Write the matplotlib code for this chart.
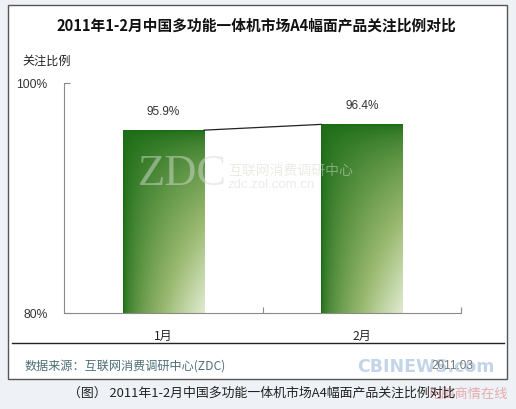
import matplotlib.pyplot as plt
import numpy as np
from matplotlib.patches import Rectangle

plt.rcParams['font.family'] = ['Noto Sans CJK SC', 'DejaVu Sans']

months = ['1月', '2月']
ratios = [95.9, 96.4]
value_labels = ['95.9%', '96.4%']
y_ticks = [80, 100]
y_tick_labels = ['80%', '100%']

W, H = 516, 409
fig = plt.figure(figsize=(W / 100, H / 100), dpi=100, facecolor='#eef2f6')

def fx(px):
    return px / W

def fy(py):
    return 1 - py / H

# 白色外框
fig.patches.append(Rectangle((fx(8), fy(379)), fx(499), 374 / H, transform=fig.transFigure,
                             facecolor='white', edgecolor='#555555', lw=1, zorder=-5))
fig.add_artist(plt.Line2D([fx(12), fx(504)], [fy(343), fy(343)], transform=fig.transFigure,
                          color='#222222', lw=1))

ax = fig.add_axes([fx(64), fy(313), fx(461) - fx(64), (313 - 83) / H])
ax.set_facecolor('none')
x = np.arange(len(months))
bars = ax.bar(x, ratios, width=0.41, bottom=0, color='none', zorder=2)
ax.set_xlim(-0.5, 1.5)
ax.set_ylim(80, 100)

# 渐变填充（左上深绿，右下浅绿）
gx, gy = np.meshgrid(np.linspace(0, 1, 80), np.linspace(0, 1, 160))
t = np.clip(gx * (1 - gy), 0, 1) ** 0.6
dark = np.array([28, 108, 22]) / 255
mid = np.array([152, 184, 110]) / 255
light = np.array([224, 235, 208]) / 255
k = 0.65
a = np.clip(t / k, 0, 1)[..., None]
b2 = np.clip((t - k) / (1 - k), 0, 1)[..., None]
img = np.where(t[..., None] < k, dark * (1 - a) + mid * a, mid * (1 - b2) + light * b2)
for b in bars:
    x0, w, h = b.get_x(), b.get_width(), b.get_height()
    im = ax.imshow(img, extent=[x0, x0 + w, 80, h], origin='lower', aspect='auto', zorder=2)
    im.set_clip_path(b)

# 柱顶连线
ax.plot([bars[0].get_x() + bars[0].get_width(), bars[1].get_x()], ratios,
        color='#222222', lw=0.9, zorder=3)

for xi, v, lab in zip(x, ratios, value_labels):
    ax.annotate(lab, (xi, v), xytext=(0, 9), textcoords='offset points', ha='center',
                va='bottom', fontsize=8.5, color='#333333', family=['Liberation Sans'])

for s in ['top', 'right']:
    ax.spines[s].set_visible(False)
for s in ['left', 'bottom']:
    ax.spines[s].set_color('#8a8a8a')
    ax.spines[s].set_linewidth(0.8)

ax.set_yticks(y_ticks)
ax.set_yticklabels(y_tick_labels, family=['Liberation Sans'], fontsize=8.7, color='#333333')
ax.tick_params(axis='y', direction='in', length=4, width=0.8, color='#8a8a8a', pad=12)
ax.set_xticks(x)
ax.set_xticklabels(months, fontsize=8.7, color='#222222')
ax.tick_params(axis='x', length=0, pad=12)
ax.set_xticks([0.5, 1.5], minor=True)
ax.tick_params(axis='x', which='minor', direction='in', length=4, width=0.8, color='#8a8a8a')

fig.text(fx(22), fy(61), '关注比例', fontsize=8.7, color='#222222', va='center')
fig.text(fx(256), fy(25), '2011年1-2月中国多功能一体机市场A4幅面产品关注比例对比',
         fontsize=10.6, fontweight='bold', color='#111111', ha='center', va='center')

# 水印
fig.text(fx(138), fy(174), 'ZDC', family=['Liberation Serif'], fontsize=32, color='#d4dbd0',
         alpha=0.5, va='center')
fig.text(fx(228), fy(171), '互联网消费调研中心', fontsize=10, color='#d4dbd0', alpha=0.5, va='center')
fig.text(fx(228), fy(185), 'zdc.zol.com.cn', fontsize=9.5, color='#d4dbd0', alpha=0.5, va='center',
         family=['Liberation Sans'])

fig.text(fx(25), fy(366), '数据来源：互联网消费调研中心(ZDC)', fontsize=8.7, color='#4d6f78', va='center')
fig.text(fx(357), fy(367), 'CBINEWS.com', fontsize=12.5, fontweight='bold', color='#a9c3de',
         alpha=0.7, va='center', family=['DejaVu Sans'], zorder=-1)
fig.text(fx(473), fy(366), '2011.03', fontsize=8.5, color='#777777', va='center', ha='right',
         family=['Liberation Sans'])
fig.text(fx(262), fy(393), '（图） 2011年1-2月中国多功能一体机市场A4幅面产品关注比例对比',
         fontsize=9.3, color='#222222', ha='center', va='center')
fig.text(fx(508), fy(394), '电脑商情在线', fontsize=9.5, color='#e07c7c', alpha=0.6,
         ha='right', va='center', style='italic', zorder=-1)

fig.savefig('out.png', dpi=100, facecolor=fig.get_facecolor())
